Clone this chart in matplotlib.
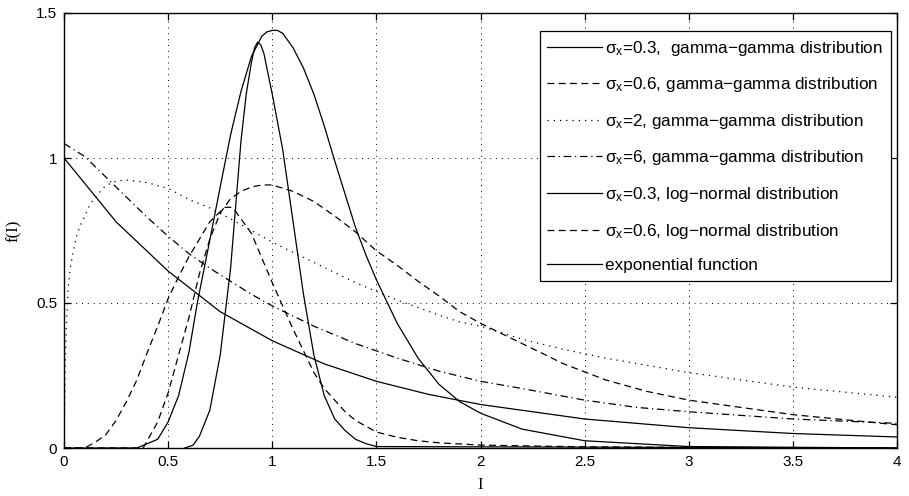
import matplotlib
matplotlib.use("Agg")
import matplotlib.pyplot as plt

# ---- data ----
# gamma-gamma, sigma_x = 0.3 (narrow solid)
gg03_I = [0.58, 0.62, 0.65, 0.70, 0.75, 0.80, 0.85, 0.875, 0.90, 0.915, 0.93, 0.945, 0.96, 1.00, 1.05, 1.10, 1.15, 1.20, 1.25, 1.30, 1.35, 1.40, 1.45, 1.50, 4.0]
gg03_f = [0.0, 0.01, 0.04, 0.13, 0.32, 0.62, 1.06, 1.22, 1.33, 1.38, 1.40, 1.39, 1.36, 1.22, 1.03, 0.78, 0.53, 0.32, 0.18, 0.10, 0.06, 0.03, 0.015, 0.005, 0.0]

# gamma-gamma, sigma_x = 0.6 (dashed, peak ~0.83)
gg06_I = [0.0, 0.10, 0.15, 0.20, 0.25, 0.30, 0.35, 0.40, 0.45, 0.50, 0.55, 0.60, 0.65, 0.70, 0.75, 0.775, 0.80, 0.825, 0.85, 0.90, 0.95, 1.00, 1.05, 1.10, 1.15, 1.20, 1.25, 1.30, 1.35, 1.40, 1.50, 1.60, 1.70, 1.80, 1.90, 2.00, 2.5, 3.0, 4.0]
gg06_f = [0.0, 0.0, 0.02, 0.045, 0.095, 0.16, 0.235, 0.33, 0.42, 0.515, 0.59, 0.66, 0.72, 0.78, 0.815, 0.83, 0.83, 0.815, 0.79, 0.74, 0.655, 0.57, 0.49, 0.41, 0.335, 0.26, 0.205, 0.165, 0.125, 0.095, 0.055, 0.037, 0.025, 0.018, 0.014, 0.01, 0.004, 0.002, 0.0]

# gamma-gamma, sigma_x = 2 (dotted)
gg2_I = [0.0, 0.005, 0.01, 0.02, 0.03, 0.045, 0.06, 0.08, 0.10, 0.125, 0.15, 0.20, 0.25, 0.30, 0.35, 0.40, 0.50, 0.60, 0.70, 0.80, 0.90, 1.00, 1.10, 1.20, 1.30, 1.40, 1.50, 1.60, 1.70, 1.80, 1.90, 2.00, 2.20, 2.40, 2.60, 2.80, 3.00, 3.50, 4.00]
gg2_f = [0.0, 0.25, 0.40, 0.55, 0.62, 0.68, 0.73, 0.77, 0.80, 0.84, 0.865, 0.905, 0.92, 0.924, 0.92, 0.915, 0.895, 0.857, 0.828, 0.79, 0.75, 0.71, 0.675, 0.64, 0.605, 0.57, 0.54, 0.51, 0.485, 0.458, 0.435, 0.42, 0.375, 0.34, 0.31, 0.285, 0.26, 0.21, 0.175]

# gamma-gamma, sigma_x = 6 (dash-dot)
gg6_I = [0.0, 0.1, 0.2, 0.3, 0.4, 0.5, 0.6, 0.7, 0.8, 0.9, 1.0, 1.2, 1.4, 1.6, 1.8, 2.0, 2.2, 2.5, 2.75, 3.0, 3.5, 4.0]
gg6_f = [1.05, 1.005, 0.935, 0.865, 0.795, 0.73, 0.67, 0.62, 0.575, 0.53, 0.49, 0.42, 0.36, 0.31, 0.265, 0.23, 0.205, 0.165, 0.14, 0.125, 0.10, 0.085]

# log-normal, sigma_x = 0.3 (wide solid)
ln03_I = [0.0, 0.35, 0.45, 0.50, 0.55, 0.60, 0.64, 0.69, 0.75, 0.80, 0.85, 0.90, 0.95, 0.975, 1.00, 1.025, 1.05, 1.10, 1.15, 1.20, 1.25, 1.30, 1.35, 1.40, 1.45, 1.50, 1.60, 1.70, 1.80, 1.90, 2.00, 2.20, 2.50, 3.00, 4.00]
ln03_f = [0.0, 0.0, 0.03, 0.09, 0.18, 0.33, 0.50, 0.68, 0.90, 1.08, 1.23, 1.35, 1.42, 1.435, 1.44, 1.44, 1.43, 1.38, 1.31, 1.22, 1.11, 0.99, 0.875, 0.76, 0.665, 0.58, 0.43, 0.31, 0.22, 0.16, 0.12, 0.065, 0.025, 0.005, 0.0]

# log-normal, sigma_x = 0.6 (dashed, peak ~0.91)
ln06_I = [0.0, 0.38, 0.45, 0.50, 0.55, 0.60, 0.65, 0.70, 0.75, 0.80, 0.85, 0.90, 0.95, 1.00, 1.10, 1.20, 1.30, 1.40, 1.50, 1.60, 1.70, 1.80, 1.90, 2.00, 2.20, 2.40, 2.60, 2.80, 3.00, 3.50, 4.00]
ln06_f = [0.0, 0.0, 0.09, 0.19, 0.32, 0.45, 0.60, 0.72, 0.81, 0.86, 0.885, 0.90, 0.907, 0.907, 0.885, 0.85, 0.80, 0.745, 0.68, 0.63, 0.575, 0.525, 0.47, 0.43, 0.36, 0.29, 0.235, 0.195, 0.165, 0.115, 0.08]

# exponential function
exp_I = [0.0, 0.25, 0.50, 0.75, 1.00, 1.25, 1.50, 1.75, 2.00, 2.50, 3.00, 3.50, 4.00]
exp_f = [1.0, 0.78, 0.61, 0.47, 0.37, 0.29, 0.23, 0.185, 0.15, 0.10, 0.07, 0.05, 0.038]

labels = [
    r'$\mathregular{\sigma_x}$=0.3,  gamma$-$gamma distribution',
    r'$\mathregular{\sigma_x}$=0.6, gamma$-$gamma distribution',
    r'$\mathregular{\sigma_x}$=2, gamma$-$gamma distribution',
    r'$\mathregular{\sigma_x}$=6, gamma$-$gamma distribution',
    r'$\mathregular{\sigma_x}$=0.3, log$-$normal distribution',
    r'$\mathregular{\sigma_x}$=0.6, log$-$normal distribution',
    'exponential function',
]
x_ticks = [0, 0.5, 1, 1.5, 2, 2.5, 3, 3.5, 4]
x_ticklabels = ['0', '0.5', '1', '1.5', '2', '2.5', '3', '3.5', '4']
y_ticks = [0, 0.5, 1, 1.5]
y_ticklabels = ['0', '0.5', '1', '1.5']

plt.rcParams['font.family'] = ['Liberation Sans', 'DejaVu Sans']
plt.rcParams['mathtext.fontset'] = 'custom'
plt.rcParams['mathtext.rm'] = 'Liberation Sans'
plt.rcParams['mathtext.it'] = 'Liberation Sans'
plt.rcParams['mathtext.bf'] = 'Liberation Sans:bold'

fig = plt.figure(figsize=(9.09, 4.96), dpi=100)
ax = fig.add_axes([64 / 909, 1 - 448 / 496, 833 / 909, 435 / 496])

lw = 0.9
dashed = (0, (5.5, 3.5))
dotted = (0, (1, 4))
dashdot = (0, (6, 3, 1, 3))

ax.plot(gg03_I, gg03_f, color='black', lw=lw, ls='-', label=labels[0])
ax.plot(gg06_I, gg06_f, color='black', lw=lw, ls=dashed, label=labels[1])
ax.plot(gg2_I, gg2_f, color='black', lw=lw, ls=dotted, label=labels[2])
ax.plot(gg6_I, gg6_f, color='black', lw=lw, ls=dashdot, label=labels[3])
ax.plot(ln03_I, ln03_f, color='black', lw=lw, ls='-', label=labels[4])
ax.plot(ln06_I, ln06_f, color='black', lw=lw, ls=dashed, label=labels[5])
ax.plot(exp_I, exp_f, color='black', lw=lw, ls='-', label=labels[6])

ax.set_xlim(0, 4)
ax.set_ylim(0, 1.5)
ax.set_xticks(x_ticks)
ax.set_xticklabels(x_ticklabels)
ax.set_yticks(y_ticks)
ax.set_yticklabels(y_ticklabels)
ax.tick_params(direction='in', length=5, width=0.9, labelsize=11, top=True, right=True, pad=5)
ax.grid(True, color='black', ls=(0, (1, 5)), lw=0.7)
for s in ax.spines.values():
    s.set_linewidth(1.0)

ax.set_xlabel('I', family='Liberation Serif', fontsize=12, labelpad=6)
ax.set_ylabel('f(I)', family='Liberation Serif', fontsize=12, labelpad=10)

leg = ax.legend(loc='upper right', bbox_to_anchor=((891 - 64) / 833, (448 - 31) / 435),
                borderaxespad=0, fontsize=12.3, frameon=True, fancybox=False,
                edgecolor='black', framealpha=1, handlelength=3.2, handletextpad=0.2,
                labelspacing=1.03, borderpad=0.45)
leg.get_frame().set_linewidth(0.9)

fig.savefig('out.png', dpi=100)
